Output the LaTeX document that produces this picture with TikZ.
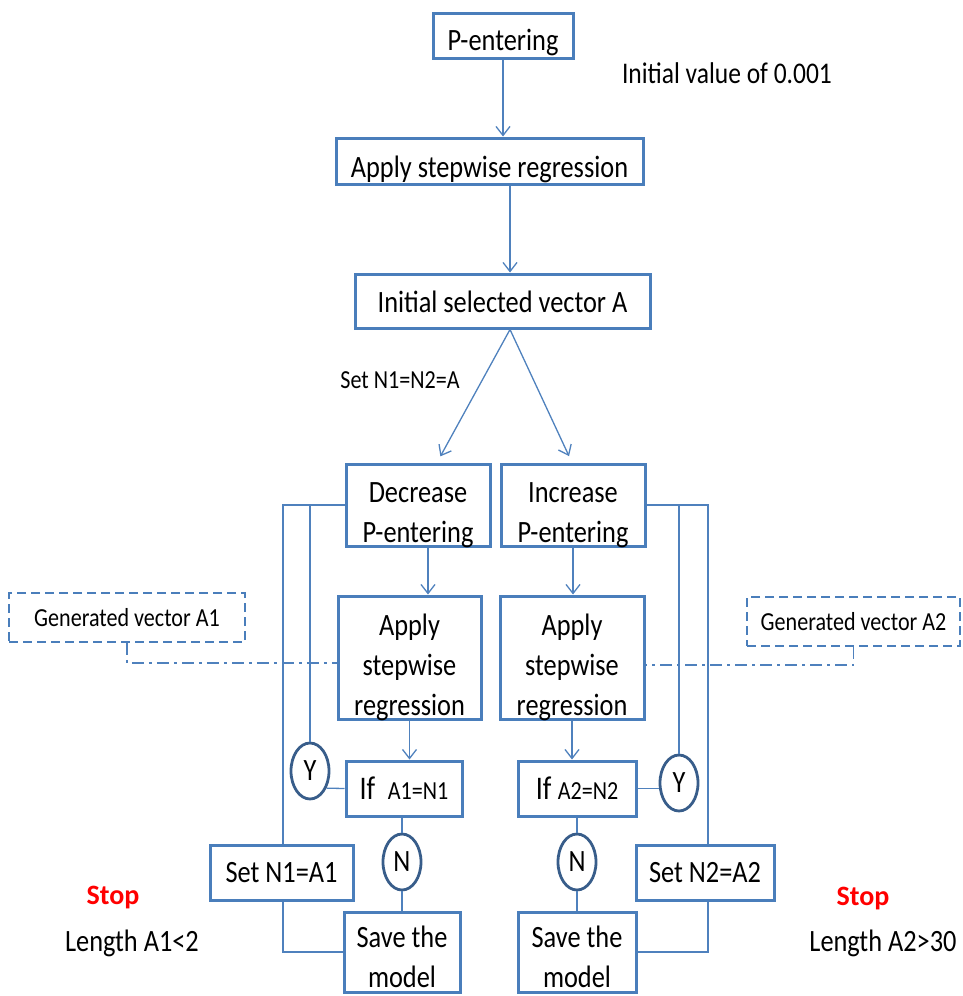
\documentclass[tikz,border=0pt]{standalone}
\usepackage{fontspec}
\setmainfont{Carlito}[FakeStretch=0.85]
\newfontfamily\stopfont{Carlito}
\usetikzlibrary{arrows.meta,shapes.geometric}

\definecolor{boxblue}{RGB}{74,126,187}
\definecolor{ringblue}{RGB}{56,93,138}
\definecolor{lineblue}{RGB}{79,129,189}
\definecolor{stopred}{RGB}{255,0,0}

\tikzset{
  box/.style={draw=boxblue, line width=3pt, fill=white, inner sep=0pt},
  txt/.style={font=\fontsize{31}{40}\selectfont, align=center, inner sep=0pt},
  small/.style={font=\fontsize{26}{30}\selectfont, inner sep=0pt},
  ring/.style={ellipse, draw=ringblue, line width=2.8pt, fill=white,
    minimum width=38pt, minimum height=56pt, inner sep=0pt,
    font=\fontsize{31}{40}\selectfont},
  link/.style={draw=lineblue, line width=1.3pt},
  arr/.style={link, -{Straight Barb[length=9pt,width=14pt,line width=1.3pt]}},
  callout/.style={draw=boxblue, line width=1.5pt, dash pattern=on 9pt off 5pt,
    inner sep=0pt, font=\fontsize{26}{30}\selectfont},
  leader/.style={draw=lineblue, line width=1.3pt,
    dash pattern=on 12pt off 5pt on 3pt off 5pt},
  stoplbl/.style={font=\stopfont\bfseries\fontsize{28}{30}\selectfont,
    text=stopred, inner sep=0pt},
}

\begin{document}
\begin{tikzpicture}[x=1pt,y=-1pt]
\useasboundingbox (0,0) rectangle (962,996);

% ---- main column ----
\node[box, minimum width=140pt, minimum height=45pt] (pent) at (503,35.5) {};
\node[txt] (pent-t) at ([yshift=-7pt]pent.center) {P-entering};
\node[txt, font=\fontsize{30}{36}\selectfont] (initval) at (727,73) {Initial value of 0.001};

\node[box, minimum width=307pt, minimum height=46pt] (apply0) at (489.5,161) {};
\node[txt] (apply0-t) at ([yshift=-8pt]apply0.center) {Apply stepwise regression};

\node[box, minimum width=295pt, minimum height=54pt] (initA) at (502.5,301) {};
\node[txt] (initA-t) at ([yshift=-1pt]initA.center) {Initial selected vector A};

\node[small] (setlbl) at (400,380) {Set N1=N2=A};

% ---- two branches ----
\node[box, minimum width=144pt, minimum height=82pt] (dec) at (418,505) {};
\node[txt] (dec-t) at ([yshift=-10pt]dec.center) {Decrease\\P-entering};
\node[box, minimum width=144pt, minimum height=82pt] (inc) at (573,505) {};
\node[txt] (inc-t) at ([yshift=-10pt]inc.center) {Increase\\P-entering};

\node[box, minimum width=143pt, minimum height=123pt] (apply1) at (409.5,657.5) {};
\node[txt] (apply1-t) at ([yshift=-10pt]apply1.center) {Apply\\stepwise\\regression};
\node[box, minimum width=144pt, minimum height=123pt] (apply2) at (572,657.5) {};
\node[txt] (apply2-t) at ([yshift=-10pt]apply2.center) {Apply\\stepwise\\regression};

\node[box, minimum width=116pt, minimum height=55pt] (if1) at (404,788.5) {};
\node[txt] (if1-t) at (if1.center) {\fontsize{33}{40}\selectfont If\ \ \fontsize{26}{40}\selectfont A1=N1};
\node[box, minimum width=118pt, minimum height=55pt] (if2) at (577,788.5) {};
\node[txt] (if2-t) at (if2.center) {\fontsize{33}{40}\selectfont If \fontsize{26}{40}\selectfont A2=N2};

\node[ring] (y1) at (310,771) {Y};
\node[ring] (y2) at (679,783) {Y};
\node[ring] (n1) at (402,862) {N};
\node[ring] (n2) at (577,862) {N};

\node[box, minimum width=143pt, minimum height=55pt] (set1) at (281.5,872.5) {};
\node[txt] (set1-t) at (set1.center) {Set N1=A1};
\node[box, minimum width=138pt, minimum height=55pt] (set2) at (705,872.5) {};
\node[txt] (set2-t) at (set2.center) {Set N2=A2};

\node[box, minimum width=116pt, minimum height=80pt] (save1) at (402,952) {};
\node[txt] (save1-t) at ([yshift=-5pt]save1.center) {Save the\\model};
\node[box, minimum width=118pt, minimum height=80pt] (save2) at (577,952) {};
\node[txt] (save2-t) at ([yshift=-5pt]save2.center) {Save the\\model};

% ---- callouts ----
\node[callout, minimum width=236pt, minimum height=49pt] (gen1) at (127,617.5) {Generated vector A1};
\node[callout, minimum width=213pt, minimum height=49pt] (gen2) at (853.5,621.5) {Generated vector A2};

% ---- stop conditions ----
\node[stoplbl] (stop1) at (113,898) {Stop};
\node[txt] (len1) at (132,943) {Length A1<2};
\node[stoplbl] (stop2) at (863,899) {Stop};
\node[txt] (len2) at (883,943) {Length A2>30};

% ---- connectors ----
\draw[arr] (pent.south) -- (pent.south |- apply0.north);
\draw[arr] ([xshift=20.5pt]apply0.south) -- ([xshift=7.5pt]initA.north);
\draw[arr, shorten >=7pt] ([xshift=7.5pt]initA.south) -- ([xshift=19pt]dec.north);
\draw[arr, shorten >=7pt] ([xshift=7.5pt]initA.south) -- ([xshift=-1pt]inc.north);
\draw[arr] ([xshift=10pt]dec.south) -- ([xshift=10pt]dec.south |- apply1.north);
\draw[arr] (inc.south) -- (inc.south |- apply2.north);
\draw[arr] (apply1.south) -- (apply1.south |- if1.north);
\draw[arr] (apply2.south) -- (apply2.south |- if2.north);

\draw[link] (n1.north |- if1.south) -- (n1.north);
\draw[link] (n1.south) -- (n1.south |- save1.north);
\draw[link] (n2.north |- if2.south) -- (n2.north);
\draw[link] (n2.south) -- (n2.south |- save2.north);

% left feedback loop
\draw[link] (if1.west) -- (y1.-46);
\draw[link] (y1.north) |- (dec.west);
\draw[link] ([xshift=1.5pt]set1.north) |- (dec.west);
\draw[link] ([xshift=1.5pt]set1.south) |- (save1.west);

% right feedback loop
\draw[link] (if2.east) -- (if2.east -| y2.west);
\draw[link] (y2.north) |- (inc.east);
\draw[link] ([xshift=3pt]set2.north) |- (inc.east);
\draw[link] ([xshift=3pt]set2.south) |- (save2.east);

% callout leaders
\draw[leader] (gen1.south) |- ([yshift=-5.5pt]apply1.west);
\draw[leader] (gen2.south) |- ([yshift=-7.5pt]apply2.east);
\end{tikzpicture}
\end{document}
